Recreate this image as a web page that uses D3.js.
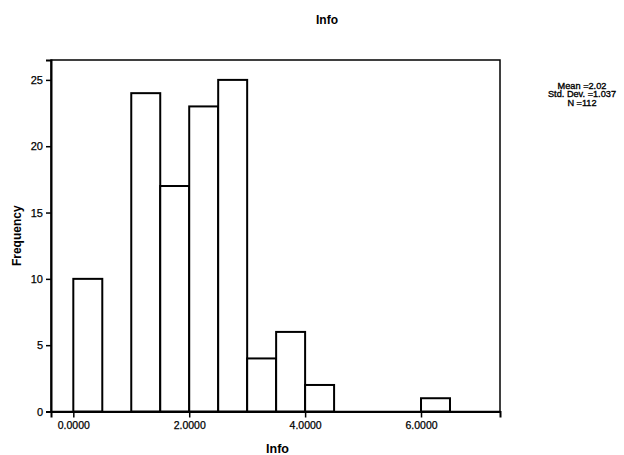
<!DOCTYPE html>
<html><head><meta charset="utf-8">
<script src="https://cdn.jsdelivr.net/npm/d3@7"></script>
<style>body{margin:0;background:#fff;} svg{display:block;font-family:"Liberation Sans",Arial,sans-serif;}</style>
</head><body>
<svg id="c" width="624" height="455"></svg>
<script>
const binStarts = [0, 1, 1.5, 2, 2.5, 3, 3.5, 4, 6];
const binWidth = 0.5;
const frequencies = [10, 24, 17, 23, 25, 4, 6, 2, 1];
const xTicks = [0, 2, 4, 6];
const xTickLabels = ["0.0000", "2.0000", "4.0000", "6.0000"];
const yTicks = [0, 5, 10, 15, 20, 25];
const statsLines = ["Mean =2.02", "Std. Dev. =1.037", "N =112"];
const title = "Info";
const xLabel = "Info";
const yLabel = "Frequency";

const svg = d3.select("#c");
const L = 51, R = 500, T = 60, B = 411.5;
const x = d3.scaleLinear().domain([-0.385, 7.363]).range([L, R]);
const y = d3.scaleLinear().domain([0, 26.5]).range([B, T]);

// frame
svg.append("rect").attr("x", L).attr("y", T).attr("width", R - L).attr("height", B - T)
  .attr("fill", "none").attr("stroke", "#000").attr("stroke-width", 1.5);

// bars
svg.append("g").selectAll("rect").data(binStarts).join("rect")
  .attr("x", d => x(d))
  .attr("y", (d, i) => y(frequencies[i]))
  .attr("width", d => x(d + binWidth) - x(d))
  .attr("height", (d, i) => y(0) - y(frequencies[i]))
  .attr("fill", "#fff").attr("stroke", "#000").attr("stroke-width", 2);

// axes
const xAxis = d3.axisBottom(x).tickValues(xTicks).tickFormat((d, i) => xTickLabels[i]).tickSize(6).tickPadding(4);
const gx = svg.append("g").attr("transform", `translate(0,${B})`).call(xAxis);
gx.select(".domain").attr("stroke-width", 2);
gx.selectAll(".tick line").attr("stroke-width", 1.5);
gx.selectAll("text").attr("font-size", 10.5).attr("font-family", "Liberation Sans, Arial, sans-serif")
  .attr("fill", "#000").attr("stroke", "#000").attr("stroke-width", 0.25);

const yAxis = d3.axisLeft(y).tickValues(yTicks).tickSize(5).tickPadding(3);
const gy = svg.append("g").attr("transform", `translate(${L},0)`).call(yAxis);
gy.select(".domain").attr("stroke-width", 2);
gy.selectAll(".tick line").attr("stroke-width", 1.5);
gy.selectAll("text").attr("font-size", 11).attr("font-family", "Liberation Sans, Arial, sans-serif")
  .attr("fill", "#000").attr("stroke", "#000").attr("stroke-width", 0.25);

// title and labels
svg.append("text").attr("x", 327).attr("y", 24).attr("text-anchor", "middle")
  .attr("font-size", 12).attr("font-weight", "bold").text(title);
svg.append("text").attr("x", (L + R) / 2 + 2).attr("y", 453).attr("text-anchor", "middle")
  .attr("font-size", 12.5).attr("font-weight", "bold").text(xLabel);
svg.append("text").attr("transform", `translate(21,${(T + B) / 2}) rotate(-90)`).attr("text-anchor", "middle")
  .attr("font-size", 12).attr("font-weight", "bold").text(yLabel);

// stats
svg.append("g").selectAll("text").data(statsLines).join("text")
  .attr("x", 582).attr("y", (d, i) => 88.5 + i * 8.6).attr("text-anchor", "middle")
  .attr("font-size", 9.2).attr("fill", "#000").attr("stroke", "#000").attr("stroke-width", 0.35)
  .text(d => d);
</script>
</body></html>
